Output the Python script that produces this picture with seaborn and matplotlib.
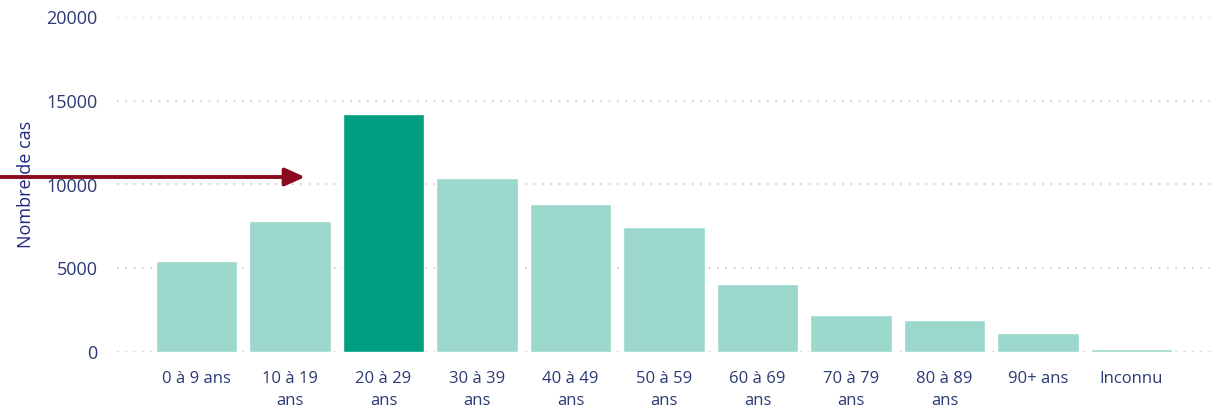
import matplotlib
matplotlib.use("Agg")
import matplotlib.pyplot as plt
import seaborn as sns
import pandas as pd

categories = ["0 à 9 ans", "10 à 19\nans", "20 à 29\nans", "30 à 39\nans", "40 à 49\nans",
              "50 à 59\nans", "60 à 69\nans", "70 à 79\nans", "80 à 89\nans", "90+ ans", "Inconnu"]
cases = [5450, 7820, 14220, 10400, 8840, 7470, 4070, 2210, 1910, 1140, 150]
highlight = "20 à 29\nans"
y_ticks = [0, 5000, 10000, 15000, 20000]

light = "#9BD8CB"
dark = "#009E81"
text_col = "#2B3A73"

sns.set_theme(style="white")
plt.rcParams['font.family'] = ['Open Sans', 'DejaVu Sans']

df = pd.DataFrame({"cat": categories, "cases": cases})
df["grp"] = ["hi" if c == highlight else "lo" for c in categories]

fig = plt.figure(figsize=(12.14, 4.15), dpi=100)
ax = fig.add_axes([117/1214, 63/415, (1210-117)/1214, (352-17)/415])

sns.barplot(data=df, x="cat", y="cases", hue="grp", palette={"hi": dark, "lo": light},
            order=categories, dodge=False, width=0.87, legend=False, ax=ax, zorder=2,
            saturation=1)

ax.set_xlim(-0.85, 10.84)
ax.set_ylim(0, 20000)
ax.set_yticks(y_ticks)
ax.set_yticklabels([str(t) for t in y_ticks])
ax.yaxis.grid(True, linestyle=(0, (1, 4)), color="#C8C8C8", linewidth=1.2, zorder=0)
ax.set_axisbelow(True)
for s in ax.spines.values():
    s.set_visible(False)
ax.tick_params(axis="y", length=0, pad=14, labelsize=13, labelcolor=text_col)
ax.tick_params(axis="x", length=0, pad=14, labelsize=12, labelcolor=text_col)
for lab in ax.get_xticklabels():
    lab.set_linespacing(1.45)
ax.set_xlabel("")
ax.set_ylabel("Nombre de cas", fontsize=13, color="#1F2A80", labelpad=8)

ax.annotate("", xy=(305, 415-177), xycoords="figure pixels",
            xytext=(0, 415-177), textcoords="figure pixels",
            arrowprops=dict(arrowstyle="-|>,head_length=1.0,head_width=0.45",
                            color="#8B0A1E", lw=2.8, shrinkA=0, shrinkB=0),
            annotation_clip=False)

fig.savefig("out.png", dpi=100)
